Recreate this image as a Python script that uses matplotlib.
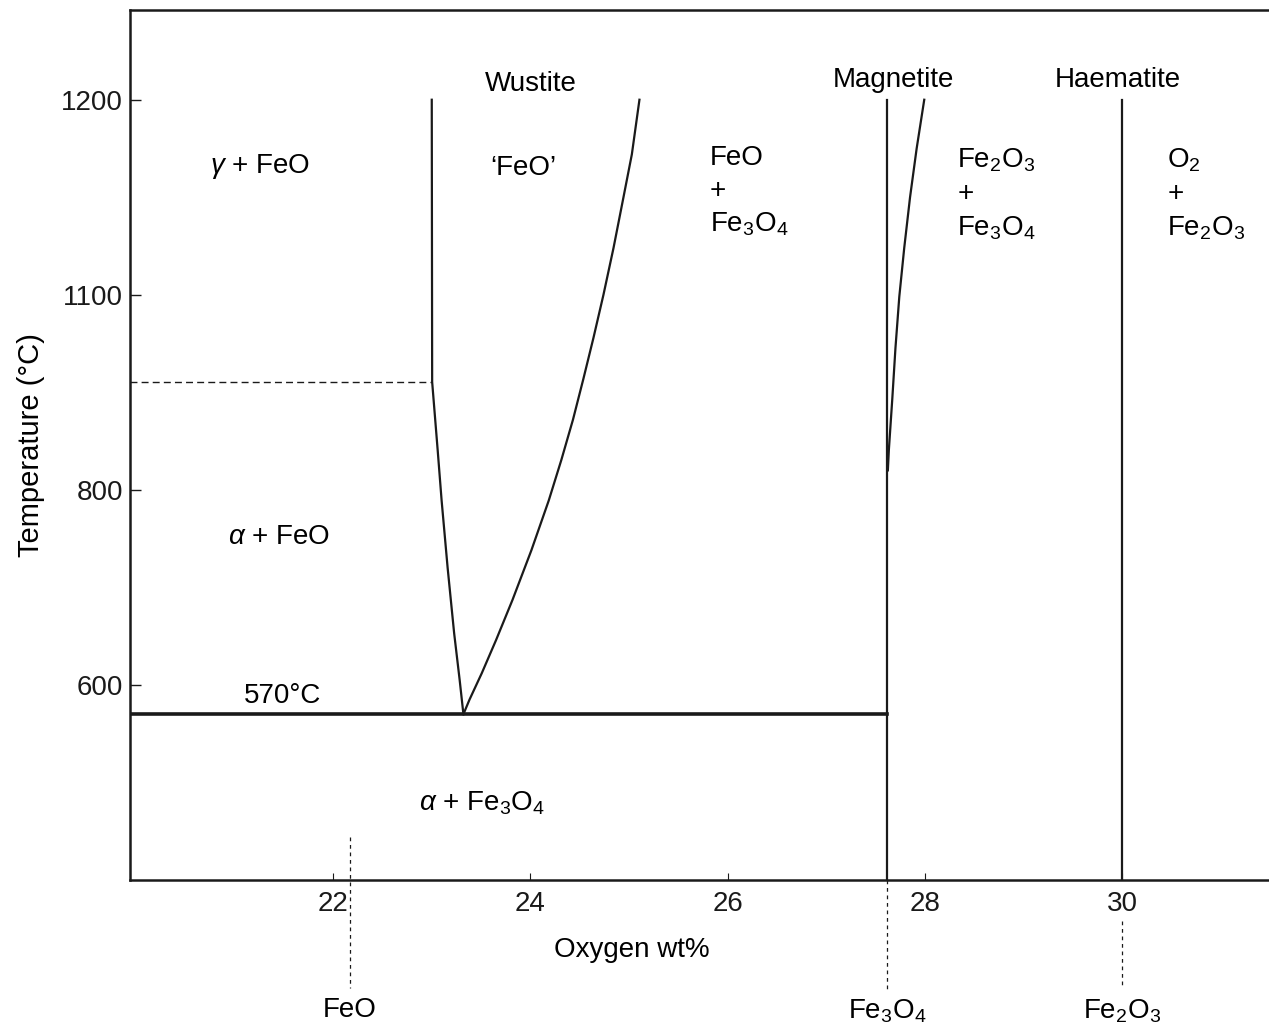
import matplotlib
matplotlib.use("Agg")
import matplotlib.pyplot as plt
import numpy as np

plt.rcParams['font.family'] = ['Liberation Sans', 'DejaVu Sans']
plt.rcParams['mathtext.fontset'] = 'custom'
plt.rcParams['mathtext.rm'] = 'Liberation Sans'
plt.rcParams['mathtext.it'] = 'Liberation Sans:italic'

# axis ticks
x_ticks = [22, 24, 26, 28, 30]
y_ticks = [600, 800, 1100, 1200]

# phase boundaries (wt% O, degC)
wustite_left_w = [23.0, 23.004, 23.06, 23.10, 23.161, 23.227, 23.283, 23.321]
wustite_left_t = [1200, 966, 861, 789, 720, 653, 605, 570]
wustite_right_w = [23.321, 23.383, 23.507, 23.652, 23.818, 24.010, 24.186, 24.314,
                   24.432, 24.538, 24.640, 24.741, 24.843, 24.944, 25.029, 25.106]
wustite_right_t = [570, 585, 612, 646, 687, 738, 789, 846,
                   908, 971, 1034, 1100, 1124, 1150, 1172, 1200]
magnetite_curve_w = [27.625, 27.635, 27.670, 27.702, 27.741, 27.791, 27.850, 27.917, 27.994]
magnetite_curve_t = [830, 861, 940, 1018, 1097, 1124, 1150, 1175, 1200]

feo_w = 22.17
magnetite_w = 27.62
haematite_w = 30.0
eutectoid_t = 570
alpha_gamma_t = 966
top_t = 1200

# the temperature axis is not linear in the original figure
t_knots = [200, 600, 800, 1100, 1200, 1300]
p_knots = [-2, 0, 1, 2, 3, 4]

def fwd(t):
    return np.interp(t, t_knots, p_knots)

def inv(p):
    return np.interp(p, p_knots, t_knots)

fig = plt.figure(figsize=(12.69, 10.31), dpi=100)
ax = fig.add_axes([130/1269, 151/1031, 1139/1269, 870/1031])
ax.set_yscale('function', functions=(fwd, inv))
ax.set_xlim(19.94, 31.49)
ax.set_ylim(400, 1246)

lc = '#1a1a1a'
lw = 1.6

ax.plot(wustite_left_w, wustite_left_t, color=lc, lw=lw)
ax.plot(wustite_right_w, wustite_right_t, color=lc, lw=lw)
ax.plot(magnetite_curve_w, magnetite_curve_t, color=lc, lw=lw)
ax.plot([magnetite_w, magnetite_w], [400, top_t], color=lc, lw=lw)
ax.plot([haematite_w, haematite_w], [400, top_t], color=lc, lw=lw)
ax.plot([19.94, magnetite_w], [eutectoid_t, eutectoid_t], color=lc, lw=2.6)
ax.plot([19.94, wustite_left_w[1]], [alpha_gamma_t, alpha_gamma_t],
        color=lc, lw=1.0, ls=(0, (5, 3)))

# composition markers below the axis
ax.plot([feo_w, feo_w], [444, 289], color=lc, lw=0.9, ls=(0, (3, 3)), clip_on=False)
ax.plot([magnetite_w, magnetite_w], [400, 287], color=lc, lw=0.9, ls=(0, (3, 3)), clip_on=False)
ax.plot([haematite_w, haematite_w], [358, 291], color=lc, lw=0.9, ls=(0, (3, 3)), clip_on=False)

fs = 20
ax.text(feo_w, 280, 'FeO', fontsize=fs, ha='center', va='top')
ax.text(magnetite_w, 280, 'Fe$_3$O$_4$', fontsize=fs, ha='center', va='top')
ax.text(haematite_w, 280, 'Fe$_2$O$_3$', fontsize=fs, ha='center', va='top')

# phase field labels
ax.text(21.26, 1166, r'$\gamma$ + FeO', fontsize=fs, ha='center', va='center')
ax.text(24.0, 1208, 'Wustite', fontsize=fs, ha='center', va='center')
ax.text(23.93, 1165, '\u2018FeO\u2019', fontsize=fs, ha='center', va='center')
ax.text(25.82, 1177, 'FeO\n+\nFe$_3$O$_4$', fontsize=fs, ha='left', va='top',
        linespacing=1.35)
ax.text(27.68, 1210, 'Magnetite', fontsize=fs, ha='center', va='center')
ax.text(29.96, 1210, 'Haematite', fontsize=fs, ha='center', va='center')
ax.text(28.33, 1176, 'Fe$_2$O$_3$\n+\nFe$_3$O$_4$', fontsize=fs, ha='left', va='top',
        linespacing=1.35)
ax.text(30.46, 1176, 'O$_2$\n+\nFe$_2$O$_3$', fontsize=fs, ha='left', va='top',
        linespacing=1.35)
ax.text(21.45, 752, r'$\alpha$ + FeO', fontsize=fs, ha='center', va='center')
ax.text(21.49, 575, '570\u00b0C', fontsize=fs, ha='center', va='bottom')
ax.text(23.51, 479, r'$\alpha$ + Fe$_3$O$_4$', fontsize=fs, ha='center', va='center')

ax.set_xticks(x_ticks)
ax.set_yticks(y_ticks)
ax.set_xticklabels([str(v) for v in x_ticks])
ax.set_yticklabels([str(v) for v in y_ticks])
ax.tick_params(axis='y', direction='in', length=8, width=1, pad=5, labelsize=fs,
               colors=lc)
ax.tick_params(axis='x', direction='in', length=5, width=0.8, pad=8, labelsize=fs,
               colors=lc)
ax.yaxis.set_minor_locator(matplotlib.ticker.NullLocator())

ax.set_xlabel('Oxygen wt%', fontsize=fs)
ax.xaxis.set_label_coords(0.441, -0.066)
ax.set_ylabel('Temperature (\u00b0C)', fontsize=21)
ax.yaxis.set_label_coords(-0.075, 0.5)

for s in ['left', 'top', 'bottom']:
    ax.spines[s].set_linewidth(1.8)
    ax.spines[s].set_color(lc)
ax.spines['right'].set_visible(False)

fig.savefig('out.png', dpi=100)
